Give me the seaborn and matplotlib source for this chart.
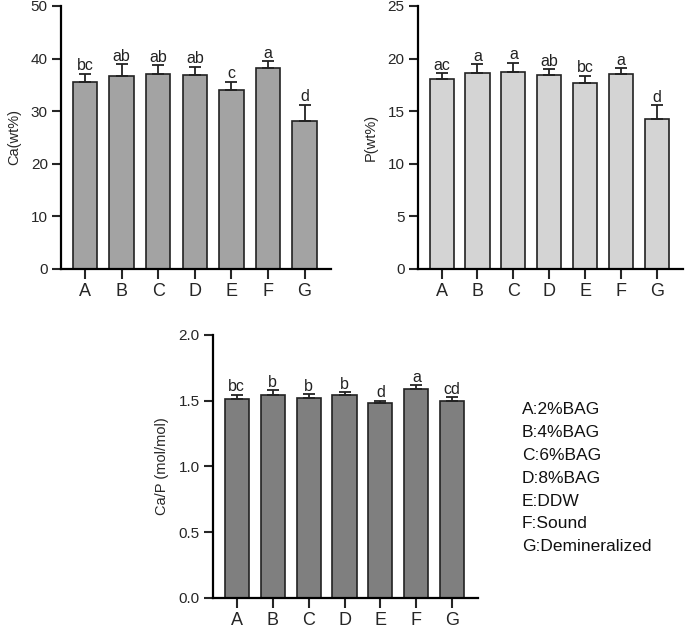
import matplotlib
matplotlib.use('Agg')
import matplotlib.pyplot as plt
import seaborn as sns
import numpy as np
import pandas as pd

groups = ['A', 'B', 'C', 'D', 'E', 'F', 'G']

ca_mean = [35.6, 36.7, 37.1, 36.9, 34.0, 38.2, 28.1]
ca_sd = [1.5, 2.2, 1.6, 1.5, 1.6, 1.3, 3.1]
ca_letters = ['bc', 'ab', 'ab', 'ab', 'c', 'a', 'd']

p_mean = [18.06, 18.6, 18.7, 18.4, 17.7, 18.57, 14.3]
p_sd = [0.55, 0.85, 0.9, 0.6, 0.65, 0.5, 1.26]
p_letters = ['ac', 'a', 'a', 'ab', 'bc', 'a', 'd']

cap_mean = [1.513, 1.544, 1.521, 1.541, 1.485, 1.592, 1.496]
cap_sd = [0.033, 0.036, 0.030, 0.025, 0.015, 0.025, 0.030]
cap_letters = ['bc', 'b', 'b', 'b', 'd', 'a', 'cd']

legend_lines = ['A:2%BAG', 'B:4%BAG', 'C:6%BAG', 'D:8%BAG',
                'E:DDW', 'F:Sound', 'G:Demineralized']

sns.set_style('white')
plt.rcParams['font.family'] = ['Liberation Sans', 'DejaVu Sans']

fig = plt.figure(figsize=(6.85, 6.31), dpi=100)


def panel(rect, means, sds, letters, color, ylim, yticks, ylabel, fmt):
    ax = fig.add_axes(rect)
    df = pd.DataFrame({'group': groups, 'value': means})
    sns.barplot(data=df, x='group', y='value', color=color, width=0.67,
                edgecolor='#222222', linewidth=1.2, saturation=1,
                errorbar=None, ax=ax)
    x = np.arange(len(groups))
    ax.errorbar(x, means, yerr=[np.zeros(len(sds)), sds], fmt='none',
                ecolor='#222222', elinewidth=1.3, capsize=4.5, capthick=1.3)
    span = ylim[1] - ylim[0]
    for xi, m, s, t in zip(x, means, sds, letters):
        ax.text(xi, m + s + span * 0.002, t, ha='center', va='bottom',
                fontsize=11.5, color='#222222')
    ax.set_xlim(-0.66, 6.72)
    ax.set_ylim(*ylim)
    ax.set_yticks(yticks)
    ax.set_yticklabels([fmt.format(v) for v in yticks])
    ax.set_xlabel('')
    ax.set_ylabel(ylabel, fontsize=10.5, labelpad=7)
    for side in ['top', 'right']:
        ax.spines[side].set_visible(False)
    for side in ['left', 'bottom']:
        ax.spines[side].set_linewidth(1.6)
        ax.spines[side].set_color('black')
    ax.tick_params(axis='y', direction='out', length=6.5, width=1.5,
                   labelsize=11, left=True, pad=3)
    ax.tick_params(axis='x', direction='out', length=7, width=1.5,
                   labelsize=13, bottom=True, pad=3)
    return ax


panel([0.089, 0.5737, 0.394, 0.4168], ca_mean, ca_sd, ca_letters, '#a3a3a3',
      (0, 50), [0, 10, 20, 30, 40, 50], 'Ca(wt%)', '{:.0f}')
panel([0.610, 0.5737, 0.387, 0.4168], p_mean, p_sd, p_letters, '#d4d4d4',
      (0, 25), [0, 5, 10, 15, 20, 25], 'P(wt%)', '{:.0f}')
panel([0.311, 0.0523, 0.387, 0.4168], cap_mean, cap_sd, cap_letters, '#7f7f7f',
      (0, 2.0), [0, 0.5, 1.0, 1.5, 2.0], 'Ca/P (mol/mol)', '{:.1f}')

for i, line in enumerate(legend_lines):
    fig.text(522 / 685, 1 - (410 + i * 22.8) / 631, line, fontsize=12.5,
             ha='left', va='center', color='#111111')

fig.savefig('out.png', dpi=100)
